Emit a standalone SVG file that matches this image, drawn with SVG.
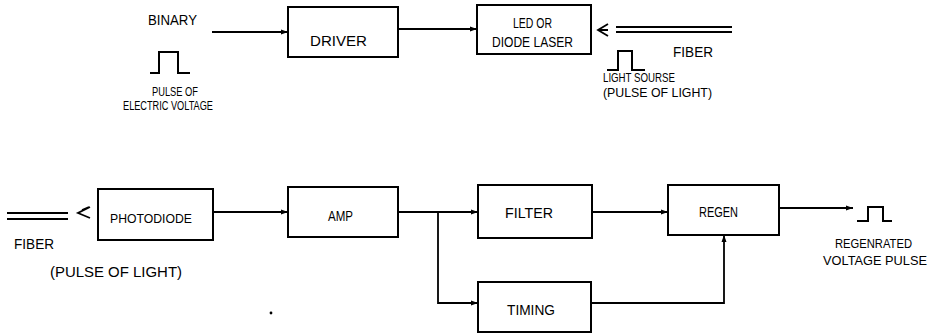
<svg xmlns="http://www.w3.org/2000/svg" width="934" height="335" viewBox="0 0 934 335">
<defs>
<marker id="ah" markerWidth="8" markerHeight="6" refX="7" refY="3" orient="auto" markerUnits="userSpaceOnUse">
<path d="M0,0.5 L7,3 L0,5.5 Z" fill="#000"/>
</marker>
<style>
.box{fill:#fff;stroke:#000;stroke-width:2}
.ln{fill:none;stroke:#000;stroke-width:1.8}
.pl{fill:none;stroke:#000;stroke-width:2;stroke-linejoin:miter}
text{font-family:"Liberation Sans","DejaVu Sans",Arial,sans-serif;fill:#000}
.t15{font-size:15px}
.t14{font-size:14px}
.t13{font-size:13px}
.t12{font-size:12px}
</style>
</defs>
<rect width="934" height="335" fill="#fff"/>

<g id="connectors">
<path class="ln" d="M212,32 H288" marker-end="url(#ah)"/>
<path class="ln" d="M398,29 H477" marker-end="url(#ah)"/>
<path class="ln" d="M213,212 H288" marker-end="url(#ah)"/>
<path class="ln" d="M398,212 H478" marker-end="url(#ah)"/>
<path class="ln" d="M438,212 V303 H478" marker-end="url(#ah)"/>
<path class="ln" d="M592,212 H668" marker-end="url(#ah)"/>
<path class="ln" d="M591,303 H724 V235" marker-end="url(#ah)"/>
<path class="ln" d="M779,208 H853" marker-end="url(#ah)"/>
</g>

<g id="binary">
<text class="t14" x="148" y="25" textLength="49" lengthAdjust="spacingAndGlyphs">BINARY</text>
<polyline class="pl" points="150,73 159,73 159,52 178,52 178,73 190,73"/>
<text class="t12" x="152" y="96" textLength="46" lengthAdjust="spacingAndGlyphs">PULSE OF</text>
<text class="t12" x="123" y="109.5" textLength="90" lengthAdjust="spacingAndGlyphs">ELECTRIC VOLTAGE</text>
</g>

<g id="driver">
<rect class="box" x="288" y="7" width="110" height="50"/>
<text class="t15" x="310" y="46" textLength="57" lengthAdjust="spacingAndGlyphs">DRIVER</text>
</g>

<g id="led">
<rect class="box" x="477" y="5" width="114" height="49"/>
<text class="t14" x="513" y="28" textLength="39" lengthAdjust="spacingAndGlyphs">LED OR</text>
<text class="t14" x="492" y="47" textLength="81" lengthAdjust="spacingAndGlyphs">DIODE LASER</text>
</g>

<g id="fiber-top">
<path class="ln" d="M608,24 L598,30 L608,36 M599,30 H608" stroke-width="1.8"/>
<path class="ln" d="M616,27 H732 M616,32 H732" stroke-width="1.6"/>
<text class="t14" x="673" y="57" textLength="40" lengthAdjust="spacingAndGlyphs">FIBER</text>
<polyline class="pl" points="607,70 618,70 618,51 632,51 632,70 645,70"/>
<text class="t13" x="603" y="82" textLength="72" lengthAdjust="spacingAndGlyphs">LIGHT SOURSE</text>
<text class="t13" x="603" y="97" textLength="109" lengthAdjust="spacingAndGlyphs">(PULSE OF LIGHT)</text>
</g>

<g id="fiber-bottom">
<path class="ln" d="M7,213 H68 M7,219 H68" stroke-width="1.6"/>
<path class="ln" d="M90,207 L78,213 L90,218 M82,210 L89,207" stroke-width="1.8"/>
<text class="t14" x="14" y="249" textLength="40" lengthAdjust="spacingAndGlyphs">FIBER</text>
<text class="t14" x="50" y="277" textLength="132" lengthAdjust="spacingAndGlyphs">(PULSE OF LIGHT)</text>
</g>

<g id="photodiode">
<rect class="box" x="98" y="189" width="115" height="51"/>
<text class="t13" x="110" y="223" textLength="82" lengthAdjust="spacingAndGlyphs">PHOTODIODE</text>
</g>

<g id="amp">
<rect class="box" x="288" y="187" width="110" height="50"/>
<text class="t14" x="328" y="221" textLength="25" lengthAdjust="spacingAndGlyphs">AMP</text>
</g>

<g id="filter">
<rect class="box" x="478" y="185" width="114" height="53"/>
<text class="t15" x="505" y="218" textLength="48" lengthAdjust="spacingAndGlyphs">FILTER</text>
</g>

<g id="regen">
<rect class="box" x="668" y="185" width="111" height="50"/>
<text class="t14" x="699" y="217" textLength="39" lengthAdjust="spacingAndGlyphs">REGEN</text>
</g>

<g id="timing">
<rect class="box" x="478" y="282" width="113" height="50"/>
<text class="t15" x="507" y="315" textLength="48" lengthAdjust="spacingAndGlyphs">TIMING</text>
</g>

<g id="output">
<polyline class="pl" points="857,221 868,221 868,207 883,207 883,221 892,221"/>
<text class="t13" x="835" y="248" textLength="77" lengthAdjust="spacingAndGlyphs">REGENRATED</text>
<text class="t13" x="823" y="265" textLength="104" lengthAdjust="spacingAndGlyphs">VOLTAGE  PULSE</text>
</g>

<circle cx="271" cy="313" r="1.4" fill="#000"/>
</svg>
